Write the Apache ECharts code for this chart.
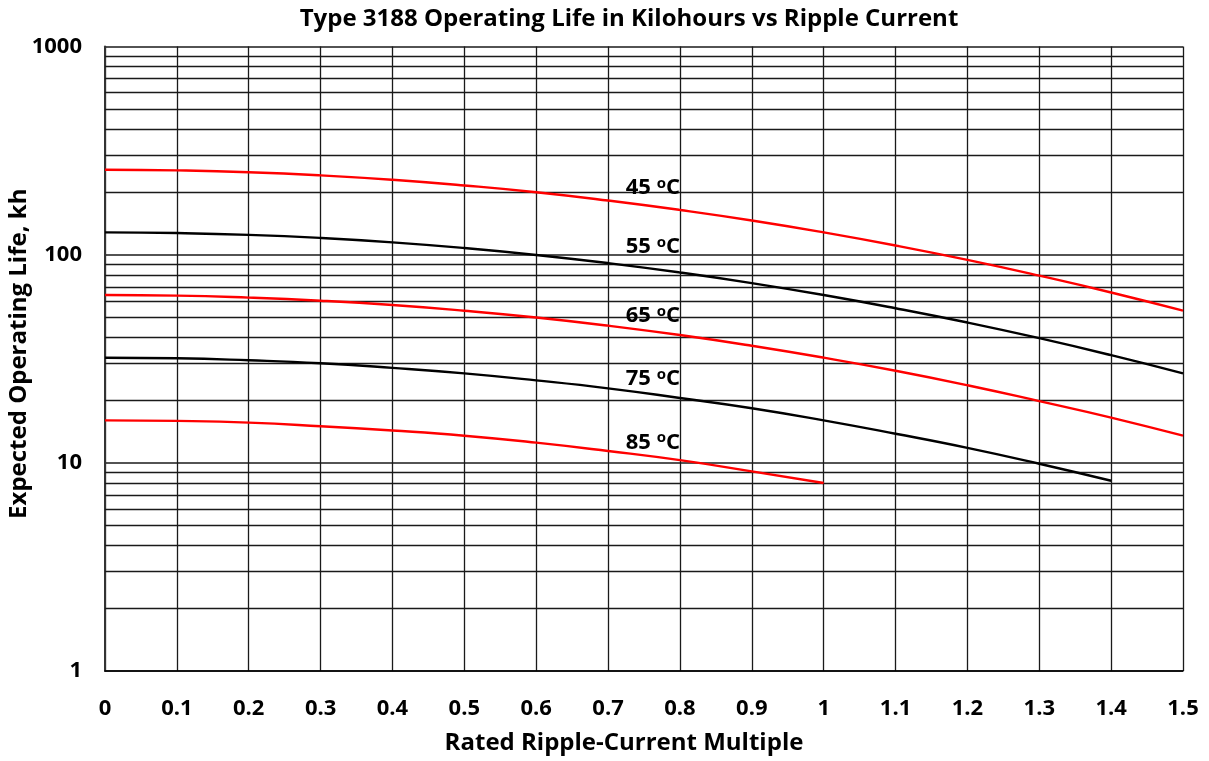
<!DOCTYPE html>
<html>
<head>
<meta charset="utf-8">
<script src="https://cdn.jsdelivr.net/npm/echarts@6/dist/echarts.min.js"></script>
<style>
  html, body { margin: 0; padding: 0; background: #fff; }
  #chart { width: 1209px; height: 761px; }
</style>
</head>
<body>
<div id="chart"></div>
<script>
(() => {
    'use strict'

    // ripple-current multiples where the curves were read
    const multiples = [0, 0.1, 0.2, 0.3, 0.4, 0.5, 0.6, 0.7, 0.8, 0.9, 1.0, 1.1, 1.2, 1.3, 1.4, 1.5]

    // expected life in kilohours, per ambient temperature
    const life45 = [256, 254, 249, 240.5, 229, 215, 199.5, 182, 164, 146, 128, 110.7, 94.4, 79.3, 65.8, 53.8]
    const life55 = [128, 127, 124.5, 120.3, 114.6, 107.6, 99.7, 91.1, 82.1, 73, 64, 55.3, 47.2, 39.7, 32.9, 26.9]
    const life65 = [64, 63.6, 62.2, 60.1, 57.3, 53.8, 49.9, 45.6, 41.1, 36.5, 32, 27.7, 23.6, 19.8, 16.5, 13.5]
    const life75 = [32, 31.8, 31.1, 30.1, 28.6, 26.9, 24.9, 22.8, 20.5, 18.3, 16, 13.8, 11.8, 9.9, 8.2]
    const life85 = [16, 15.9, 15.6, 15.0, 14.3, 13.5, 12.5, 11.4, 10.3, 9.1, 8]

    const temps = ['45', '55', '65', '75', '85']
    const colors = ['#ff0000', '#000000', '#ff0000', '#000000', '#ff0000']
    const lives = [life45, life55, life65, life75, life85]

    // where the temperature labels sit (right end of text)
    const labelX = [0.8, 0.8, 0.8, 0.8, 0.8]
    const labelY = [209, 109, 50.8, 25.3, 12.5]

    // minor horizontal grid lines of the log paper
    const minorGrid = [2, 3, 4, 5, 6, 7, 8, 9, 20, 30, 40, 50, 60, 70, 80, 90, 200, 300, 400, 500, 600, 700, 800, 900]

    const FONT = '"Open Sans", sans-serif'
    const GRID_COLOR = '#1a1a1a'

    const chart = echarts.init(document.getElementById('chart'))

    const curveSeries = lives.map((arr, i) => ({
        name: temps[i] + ' °C',
        type: 'line',
        z: 5,
        smooth: true,
        showSymbol: false,
        silent: true,
        lineStyle: { color: colors[i], width: 2.4 },
        itemStyle: { color: colors[i] },
        data: arr.map((v, j) => [multiples[j], v]),
        markPoint: {
            symbol: 'circle',
            symbolSize: 0,
            silent: true,
            label: {
                show: true,
                position: 'left',
                distance: 0,
                formatter: '{n|' + temps[i] + ' }{s|o}{n|C}',
                rich: {
                    n: { fontFamily: FONT, fontWeight: 'bold', fontSize: 22, color: '#000', lineHeight: 24 },
                    s: { fontFamily: FONT, fontWeight: 'bold', fontSize: 15, color: '#000', verticalAlign: 'top', lineHeight: 24 }
                }
            },
            data: [{ coord: [labelX[i], labelY[i]] }]
        }
    }))

    const gridSeries = {
        type: 'line',
        z: 1,
        data: [],
        silent: true,
        markLine: {
            silent: true,
            symbol: ['none', 'none'],
            animation: false,
            label: { show: false },
            lineStyle: { color: GRID_COLOR, width: 1.3, type: 'solid' },
            emphasis: { disabled: true },
            data: minorGrid.map(v => ({ yAxis: v }))
        }
    }

    const options = {
        animation: false,
        backgroundColor: '#fff',
        title: {
            text: 'Type 3188 Operating Life in Kilohours vs Ripple Current',
            left: 624,
            top: 2,
            textAlign: 'center',
            textStyle: { fontFamily: FONT, fontWeight: 'bold', fontSize: 24, color: '#000' }
        },
        grid: { left: 105, right: 26, top: 46.5, bottom: 90, containLabel: false, outerBoundsMode: 'none' },
        xAxis: {
            type: 'value',
            min: 0,
            max: 1.5,
            interval: 0.1,
            name: 'Rated Ripple-Current Multiple',
            nameLocation: 'middle',
            nameGap: 60,
            nameMoveOverlap: false,
            nameTextStyle: { fontFamily: FONT, fontWeight: 'bold', fontSize: 24, color: '#000', padding: [0, 40, 0, 0] },
            axisLine: { show: true, lineStyle: { color: '#000', width: 1.5 } },
            axisTick: { show: false },
            axisLabel: {
                margin: 27,
                fontFamily: FONT, fontWeight: 'bold', fontSize: 22, color: '#000',
                formatter: v => String(+v.toFixed(1))
            },
            splitLine: { show: true, lineStyle: { color: GRID_COLOR, width: 1.3 } }
        },
        yAxis: {
            type: 'log',
            logBase: 10,
            min: 1,
            max: 1000,
            name: 'Expected Operating Life, kh',
            nameLocation: 'middle',
            nameGap: 74,
            nameMoveOverlap: false,
            nameTextStyle: { fontFamily: FONT, fontWeight: 'bold', fontSize: 24, color: '#000', padding: [0, 0, 0, 10] },
            axisLine: { show: true, lineStyle: { color: '#333', width: 2 } },
            axisTick: { show: false },
            axisLabel: {
                margin: 23,
                fontFamily: FONT, fontWeight: 'bold', fontSize: 22, color: '#000',
                formatter: v => String(Math.round(v))
            },
            splitLine: { show: true, lineStyle: { color: GRID_COLOR, width: 1.5 } }
        },
        series: [gridSeries].concat(curveSeries)
    }

    chart.setOption(options)
})()
</script>
</body>
</html>
